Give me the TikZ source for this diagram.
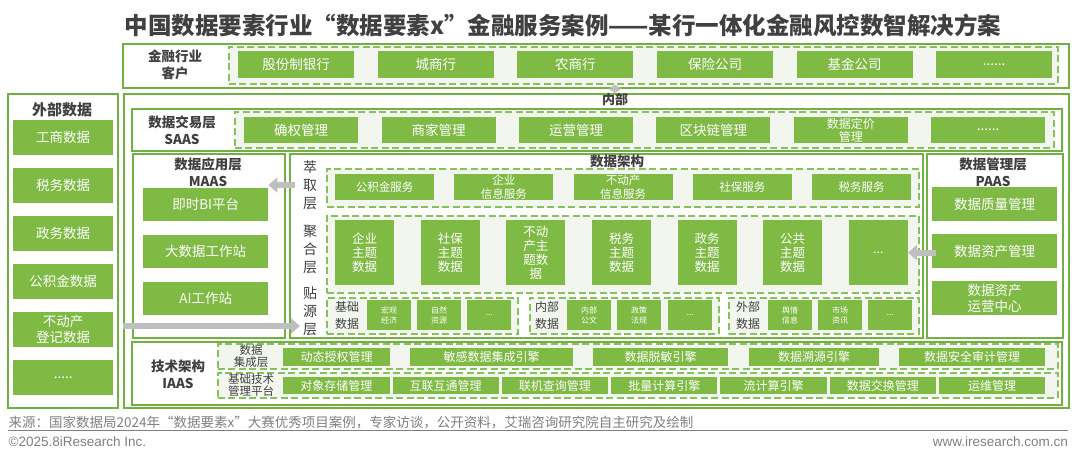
\documentclass[tikz,border=0pt]{standalone}
\usepackage{fontspec}
\setmainfont{Noto Sans CJK SC}
\newfontfamily\arialfont{Liberation Sans}
\usepackage{tikz}
\usetikzlibrary{arrows.meta}

\definecolor{boxgreen}{HTML}{7EBA44}
\definecolor{linegreen}{HTML}{72B043}
\definecolor{dashgreen}{HTML}{86C25A}
\definecolor{dashfill}{HTML}{F2F6EE}
\definecolor{textgray}{HTML}{404040}
\definecolor{footgray}{HTML}{7F7F7F}
\definecolor{arrowgray}{HTML}{BFBFBF}

\newcommand{\fsz}[2]{\fontsize{#1}{#2}\selectfont}
\newcommand{\dotsvi}{......}
\newcommand{\dotsv}{.....}
\newcommand{\dotsiii}{...}

\tikzset{
	rect/.style 2 args={anchor=north west, minimum width=#1, minimum height=#2}
}
\tikzset{
	gbox/.style={fill=boxgreen, text=white, align=center, inner sep=0pt, font=\fsz{13.5}{16}},
	outerbox/.style={draw=linegreen, line width=1.5pt, fill=white, inner sep=0pt},
	dashbox/.style={draw=dashgreen, line width=1.5pt, dash pattern=on 7pt off 3.5pt, fill=dashfill, inner sep=0pt}
}
\tikzset{
	layertitle/.style={font=\bfseries\fsz{13.5}{17}, text=textgray, align=center},
	sidetext/.style={font=\fsz{14}{18}, text=textgray, align=center, inner sep=1pt},
	grayarrow/.style={draw=arrowgray, line width=6pt, -{Triangle[length=9pt,width=15pt]}},
	updown/.style={draw=arrowgray, line width=4pt, {Triangle[length=4pt,width=12pt]}-{Triangle[length=4pt,width=12pt]}}
}

\begin{document}
\begin{tikzpicture}[x=1pt, y=-1pt]
  \useasboundingbox (0,0) rectangle (1080,458);

  \node[font=\bfseries\fsz{23.5}{28}, text=textgray] (title) at (563,25) {中国数据要素行业“数据要素x”金融服务案例——某行一体化金融风控数智解决方案};

  % customers
  \node[outerbox, rect={946}{44}] (khbox) at (122,43) {};
  \node[layertitle] (khlbl) at (175,65) {金融行业\\客户};
  \node[dashbox, rect={829}{37}] (khdash) at (228,46) {};
  \foreach \t [count=\i] in {股份制银行,城商行,农商行,保险公司,基金公司,\dotsvi}
    \node[gbox, rect={116}{27}] (kh\i) at ({238+(\i-1)*139.6},51) {\t};

  % external data
  \node[outerbox, rect={110}{314}] (wbbox) at (7,93) {};
  \node[layertitle, font=\bfseries\fsz{15}{18}] (wblbl) at (62,110) {外部数据};
  \foreach \t [count=\i] in {工商数据,税务数据,政务数据,公积金数据,{不动产\\登记数据},\dotsv}
    \node[gbox, rect={100}{35}] (wb\i) at (13,{120+(\i-1)*48}) {\t};

  % internal
  \node[outerbox, rect={945}{314}] (nbbox) at (123,93) {};
  \node[layertitle, font=\bfseries\fsz{13}{15}] (nblbl) at (615,100) {内部};
  \draw[updown] ([yshift=4pt]khbox.south -| nblbl) -- (nblbl |- nbbox.north);

  % SAAS
  \node[outerbox, rect={930}{42}] (saas) at (131,108) {};
  \node[layertitle] (saaslbl) at (182,130) {数据交易层\\SAAS};
  \node[dashbox, rect={819}{36}] (saasdash) at (234,111) {};
  \foreach \t/\f [count=\i] in {确权管理/13.5,商家管理/13.5,运营管理/13.5,区块链管理/13.5,{数据定价\\管理}/12,\dotsvi/13.5}
    \node[gbox, font=\fsz{\f}{13}, rect={114}{26}] (saas\i) at ({244+(\i-1)*137.4},117) {\t};

  % MAAS
  \node[outerbox, rect={152}{184}] (maas) at (132,153) {};
  \node[layertitle] (maaslbl) at (208,172.5) {数据应用层\\MAAS};
  \foreach \t [count=\i] in {即时BI平台,大数据工作站,AI工作站}
    \node[gbox, rect={125}{33}] (maas\i) at (143,{188+(\i-1)*47}) {\t};

  % data architecture
  \node[outerbox, rect={633}{184}] (jg) at (289,153) {};
  \node[layertitle] (jglbl) at (617,161) {数据架构};
  \node[sidetext] (cq) at (310,185) {萃\\取\\层};
  \node[sidetext] (jh) at (310,250) {聚\\合\\层};
  \node[sidetext] (ty) at (310,311) {贴\\源\\层};

  \node[dashbox, rect={592}{38}] (cqdash) at (326,168) {};
  \foreach \t [count=\i] in {公积金服务,{企业\\信息服务},{不动产\\信息服务},社保服务,税务服务}
    \node[gbox, font=\fsz{11.5}{14}, rect={99}{26}] (cq\i) at ({335+(\i-1)*119.2},174) {\t};

  \node[dashbox, rect={592}{77}] (jhdash) at (326,215) {};
  \foreach \t [count=\i] in {{企业\\主题\\数据},{社保\\主题\\数据},{不动\\产主\\题数\\据},{税务\\主题\\数据},{政务\\主题\\数据},{公共\\主题\\数据},\dotsiii}
    \node[gbox, font=\fsz{12.5}{14}, rect={59}{65}] (jh\i) at ({335+(\i-1)*85.6},220) {\t};

  \node[dashbox, rect={191}{36}] (tyg1) at (326,297) {};
  \node[dashbox, rect={189}{36}] (tyg2) at (529,297) {};
  \node[dashbox, rect={190}{36}] (tyg3) at (728,297) {};
  \node[sidetext, font=\fsz{12}{17}] (tyl1) at (347,315) {基础\\数据};
  \node[sidetext, font=\fsz{12}{17}] (tyl2) at (547,315) {内部\\数据};
  \node[sidetext, font=\fsz{12}{17}] (tyl3) at (748,315) {外部\\数据};
  \foreach \x/\t [count=\i] in {367/{宏观\\经济},417/{自然\\资源},467/\dotsiii,567/{内部\\公文},617/{政策\\法规},668/\dotsiii,768/{舆情\\信息},818/{市场\\资讯},868/\dotsiii}
    \node[gbox, font=\fsz{8}{10}, rect={44}{30}] (tyb\i) at (\x,300) {\t};

  % PAAS
  \node[outerbox, rect={136}{184}] (paas) at (926,153) {};
  \node[layertitle] (paaslbl) at (993,172) {数据管理层\\PAAS};
  \foreach \t [count=\i] in {数据质量管理,数据资产管理,{数据资产\\运营中心}}
    \node[gbox, rect={125}{34}] (paas\i) at (932,{187+(\i-1)*47}) {\t};

  % arrows
  \draw[grayarrow] ([xshift=6pt]jg.west |- cq) -- (maas1.east |- cq);
  \coordinate (tyin) at (300,326);
  \draw[grayarrow] (nbbox.west |- tyin) -- (tyin);
  \draw[grayarrow] ([xshift=4pt]paas2.west |- jh7.east) -- (jh7.east);

  % IAAS
  \node[outerbox, rect={930}{63}] (iaas) at (131,341) {};
  \node[layertitle] (iaaslbl) at (178,374) {技术架构\\IAAS};
  \node[dashbox, rect={840}{25}] (jcdash) at (217,343) {};
  \node[sidetext, font=\fsz{11.5}{12}] (jclbl) at (251,356) {数据\\集成层};
  \foreach \x/\w/\t [count=\i] in {283/107/动态授权管理,410/163/敏感数据集成引擎,593/135/数据脱敏引擎,749/130/数据溯源引擎,899/146/数据安全审计管理}
    \node[gbox, font=\fsz{12}{14}, rect={\w}{18}] (jc\i) at (\x,348) {\t};
  \node[dashbox, rect={840}{25}] (jsdash) at (217,372) {};
  \node[sidetext, font=\fsz{11.5}{12}] (jslbl) at (251,385) {基础技术\\管理平台};
  \foreach \t [count=\i] in {对象存储管理,互联互通管理,联机查询管理,批量计算引擎,流计算引擎,数据交换管理,运维管理}
    \node[gbox, font=\fsz{12}{14}, rect={106.3}{17}] (js\i) at ({283+(\i-1)*109.3},377) {\t};

  % footer
  \node[anchor=west, inner sep=0pt, font=\fsz{13.5}{15}, text=footgray] (src) at (8.5,422) {来源：国家数据局2024年“数据要素x”大赛优秀项目案例，专家访谈，公开资料，艾瑞咨询研究院自主研究及绘制};
  \draw[footgray, line width=0.8pt] (8,430) -- (1068,430);
  \node[anchor=west, inner sep=0pt, font=\arialfont\fsz{13.5}{15}, text=footgray] (copy) at (8.5,442) {©2025.8iResearch Inc.};
  \node[anchor=east, inner sep=0pt, font=\arialfont\fsz{13.5}{15}, text=footgray] (web) at (1068,442) {www.iresearch.com.cn};
\end{tikzpicture}
\end{document}
